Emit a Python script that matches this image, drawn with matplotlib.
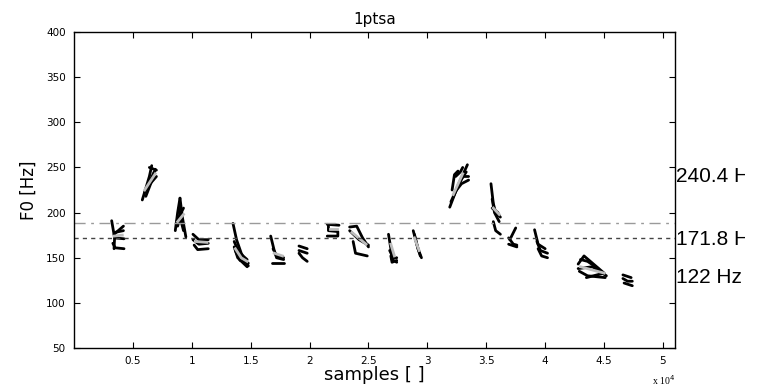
import matplotlib.pyplot as plt
import matplotlib.ticker as ticker
from matplotlib.transforms import Bbox, TransformedBbox

# F0 tracks, x in samples, y in Hz (black = individual estimates)
black_tracks = [
    # syllable 1
    [(3200, 191), (3450, 172), (3400, 160)],
    [(3400, 176), (4200, 185)],
    [(3450, 178), (4200, 180)],
    [(3450, 172), (4250, 171)],
    [(3300, 166), (3500, 161), (4250, 160)],
    # syllable 2
    [(5800, 214), (6400, 240), (6600, 252)],
    [(6000, 222), (6800, 245)],
    [(6100, 218), (6600, 235), (6900, 248)],
    [(6200, 228), (7000, 240)],
    [(6400, 250), (7000, 247)],
    # syllable 3
    [(8600, 180), (8800, 200), (9000, 216)],
    [(9000, 216), (9200, 195), (9500, 173)],
    [(8700, 190), (9300, 205)],
    [(8800, 185), (9100, 200)],
    [(8900, 205), (9100, 190), (9300, 180)],
    # syllable 4
    [(10100, 176), (10600, 170), (11400, 170)],
    [(10100, 170), (10600, 165), (11400, 166)],
    [(10200, 164), (10500, 159), (11400, 160)],
    # syllable 5
    [(13500, 188), (13800, 170), (14200, 155), (14800, 141)],
    [(13600, 162), (13900, 150), (14700, 140)],
    [(13700, 158), (14100, 147), (14800, 144)],
    [(13600, 168), (14000, 156), (14700, 148)],
    # syllable 6
    [(16700, 174), (17000, 158), (17200, 150), (17800, 148)],
    [(16900, 160), (17200, 152), (17800, 150)],
    [(16800, 144), (17800, 144)],
    # syllable 7
    [(19100, 163), (19800, 160)],
    [(19100, 158), (19800, 155)],
    [(19100, 155), (19400, 150), (19800, 146)],
    # syllable 8
    [(21500, 187), (22500, 186)],
    [(21600, 186), (21600, 180), (22400, 179), (22400, 174), (21500, 174)],
    # syllable 9
    [(23400, 184), (24000, 185), (24500, 172), (25000, 162)],
    [(23400, 180), (24200, 170), (25000, 164)],
    [(23700, 168), (23900, 155), (24900, 152)],
    # syllable 10
    [(26700, 176), (26900, 160), (27000, 148), (27400, 145)],
    [(26800, 158), (27100, 150), (27400, 150)],
    [(26900, 152), (27000, 145), (27400, 147)],
    # syllable 11
    [(28800, 180), (29100, 165), (29400, 152)],
    [(28900, 176), (29200, 160), (29500, 150)],
    # syllable 12
    [(31900, 206), (32600, 230), (33400, 253)],
    [(32000, 212), (32800, 235), (33300, 245)],
    [(32200, 218), (33000, 240), (33500, 240)],
    [(32400, 240), (32800, 245), (33000, 250)],
    [(32100, 225), (32300, 242), (32600, 246)],
    [(32300, 222), (32900, 232), (33500, 236)],
    # syllable 13
    [(35400, 232), (35600, 210), (35800, 200), (36200, 195)],
    [(35500, 205), (36000, 200)],
    [(35600, 190), (35800, 180), (36200, 176)],
    [(35500, 215), (35700, 200), (36100, 190)],
    # syllable 14
    [(37000, 170), (37500, 183)],
    [(36900, 172), (37300, 165), (37600, 164)],
    [(36900, 165), (37600, 162)],
    # syllable 15
    [(39100, 181), (39400, 165), (40000, 160)],
    [(39300, 168), (39600, 158), (40200, 155)],
    [(39400, 160), (39700, 152), (40200, 150)],
    # syllable 16
    [(42800, 143), (43300, 152), (45000, 133), (43500, 128)],
    [(42800, 138), (44000, 140), (45200, 130)],
    [(42900, 135), (43600, 130), (45100, 128)],
    [(43000, 148), (43600, 146), (44500, 138)],
    # syllable 17
    [(46600, 131), (47300, 128)],
    [(46600, 127), (47000, 124), (47400, 124)],
    [(46700, 122), (47400, 119)],
]

# mean tracks (light grey)
gray_tracks = [
    [(3400, 174), (4100, 175)],
    [(6000, 225), (6900, 243)],
    [(8800, 190), (9300, 198)],
    [(10300, 168), (11300, 167)],
    [(13700, 160), (14200, 150), (14700, 146)],
    [(17000, 155), (17700, 152)],
    [(21700, 182), (22300, 182)],
    [(23600, 178), (24800, 165)],
    [(26900, 165), (27200, 152)],
    [(28900, 172), (29300, 158)],
    [(32200, 220), (33000, 243)],
    [(35600, 205), (36100, 198)],
    [(43000, 140), (45000, 133)],
]

mean_f0 = 189.0
median_f0 = 171.8
range_labels = ['240.4 Hz', '171.8 Hz', '122 Hz']
range_values = [240.4, 171.8, 122]

fig = plt.figure(figsize=(7.65, 3.88), dpi=100)
ax = fig.add_axes([0.0967, 0.103, 0.7853, 0.8145])

for tr in black_tracks:
    xs = [p[0] for p in tr]
    ys = [p[1] for p in tr]
    ax.plot(xs, ys, color='black', lw=2.0, solid_capstyle='round')
for tr in gray_tracks:
    xs = [p[0] for p in tr]
    ys = [p[1] for p in tr]
    ax.plot(xs, ys, color='#bdbdbd', lw=2.0)

ax.axhline(mean_f0, color='#9a9a9a', lw=1.0, linestyle=(0, (8, 4, 2, 4)))
ax.axhline(median_f0, color='#444444', lw=1.0, linestyle=(0, (3, 3)))

ax.set_xlim(0, 51000)
ax.set_ylim(50, 400)
ax.set_xticks([5000, 10000, 15000, 20000, 25000, 30000, 35000, 40000, 45000, 50000])
ax.xaxis.set_major_formatter(ticker.FuncFormatter(lambda v, p: f'{v/1e4:g}'))
ax.set_yticks(range(50, 401, 50))
ax.tick_params(direction='in', top=True, right=True, length=4, labelsize=7.5, pad=6)
for s in ax.spines.values():
    s.set_linewidth(1.0)

ax.set_title('1ptsa', fontsize=11, pad=6)
ax.set_xlabel('samples [ ]', fontsize=13, labelpad=0)
ax.set_ylabel('F0 [Hz]', fontsize=12, labelpad=6)
ax.text(1.0, -0.1, 'x 10$^4$', transform=ax.transAxes, fontsize=7,
        family='Liberation Serif', ha='right', va='center')

# the labels run off the right edge of the original figure
clip = TransformedBbox(Bbox([[0, 0], [745 / 765, 1]]), fig.transFigure)
offsets = [0, -2, 6]
for lab, v, d in zip(range_labels, range_values, offsets):
    t = ax.text(51100, v + d, lab, fontsize=15, family='Liberation Sans',
                ha='left', va='center')
    t.set_clip_box(clip)
    t.set_clip_on(True)

fig.savefig('out.png', dpi=100)
